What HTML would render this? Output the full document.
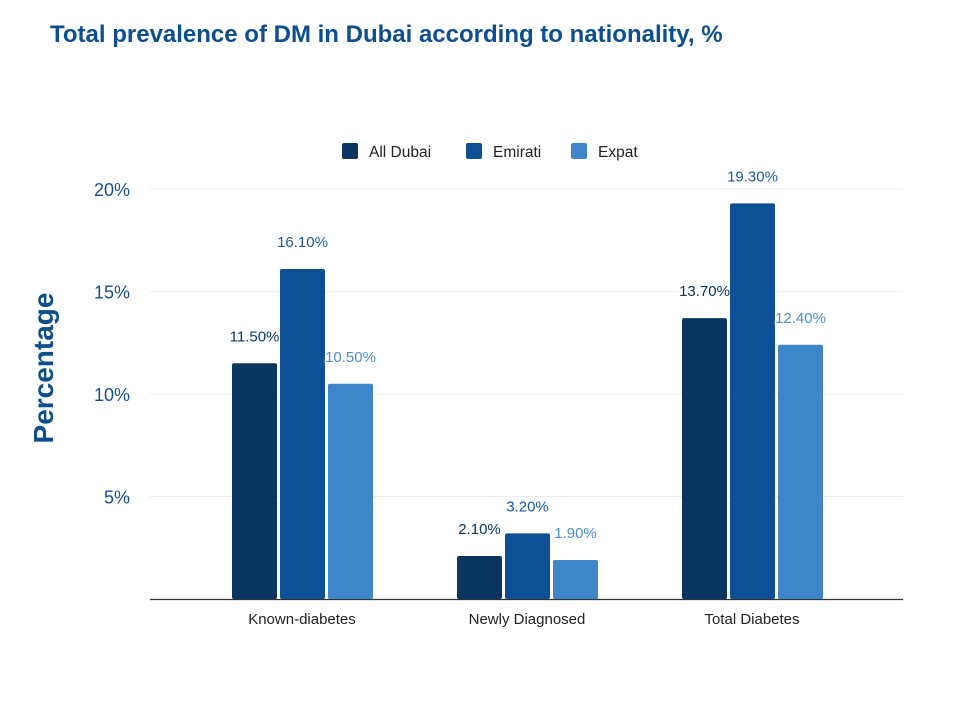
<!DOCTYPE html>
<html><head><meta charset="utf-8"><style>
body{margin:0;background:#fff;width:953px;height:706px;overflow:hidden;font-family:"Liberation Sans",sans-serif}
</style></head><body>
<svg width="953" height="706" xmlns="http://www.w3.org/2000/svg">
<text x="50" y="42" font-size="24" font-weight="bold" fill="#0d4f8e">Total prevalence of DM in Dubai according to nationality, %</text>
<g id="legend"></g>
<g id="grid"></g>
<g id="bars"></g>
<text transform="translate(53,368) rotate(-90)" text-anchor="middle" font-size="28" font-weight="bold" fill="#0d4f8e">Percentage</text>
</svg>
<script>
const categories=["Known-diabetes","Newly Diagnosed","Total Diabetes"];
const seriesNames=["All Dubai","Emirati","Expat"];
const allDubai=[11.5,2.1,13.7];
const emirati=[16.1,3.2,19.3];
const expat=[10.5,1.9,12.4];
const yTicks=[5,10,15,20];
const yTickLabels=["5%","10%","15%","20%"];
const colors=["#0a3560","#0d5096","#3f86c9"];
const labelColors=["#0a3560","#1a5a9c","#4b8fcf"];
const NS="http://www.w3.org/2000/svg";
function y(v){return 599-v*20.5;}
function groupX(i){return 302+i*225;}
function mk(tag,attrs,parent,txt){const e=document.createElementNS(NS,tag);for(const k in attrs)e.setAttribute(k,attrs[k]);if(txt!==undefined)e.textContent=txt;parent.appendChild(e);return e;}
const grid=document.getElementById('grid');
yTicks.forEach((t,i)=>{
 const l=mk('line',{x1:150,x2:903,y1:y(t),y2:y(t),stroke:'#ececec','stroke-width':1},grid);
 
 
 const tx=mk('text',{x:130,y:y(t)+7,'text-anchor':'end','font-size':18,fill:'#1a4f8e'},grid,yTickLabels[i]);
 
 
});
const ax=mk('line',{x1:150,x2:903,y1:599.5,y2:599.5,stroke:'#333','stroke-width':1.2},grid);


const bars=document.getElementById('bars');
const series=[allDubai,emirati,expat];
categories.forEach((c,i)=>{
 const cx=groupX(i);
 series.forEach((s,j)=>{
  const x=cx-70+j*48;
  const r=mk('rect',{x:x,y:y(s[i]),width:45,height:599-y(s[i]),fill:colors[j],rx:2},bars);
  
  
  const t=mk('text',{x:x+22.5,y:y(s[i])-22,'text-anchor':'middle','font-size':15,fill:labelColors[j],stroke:'#fff','stroke-width':3,'paint-order':'stroke'},bars,s[i].toFixed(2)+'%');
  
  
 });
 const xl=mk('text',{x:cx,y:624,'text-anchor':'middle','font-size':15,fill:'#222'},bars,c);
 
 
});
const lg=document.getElementById('legend');
const lx=[342,466,571];
seriesNames.forEach((n,j)=>{
 const r=mk('rect',{x:lx[j],y:143,width:16,height:16,fill:colors[j],rx:2},lg);
 
 
 const t=mk('text',{x:lx[j]+27,y:157,'font-size':15.5,fill:'#222'},lg,n);
 
 
});
</script>
</body></html>
